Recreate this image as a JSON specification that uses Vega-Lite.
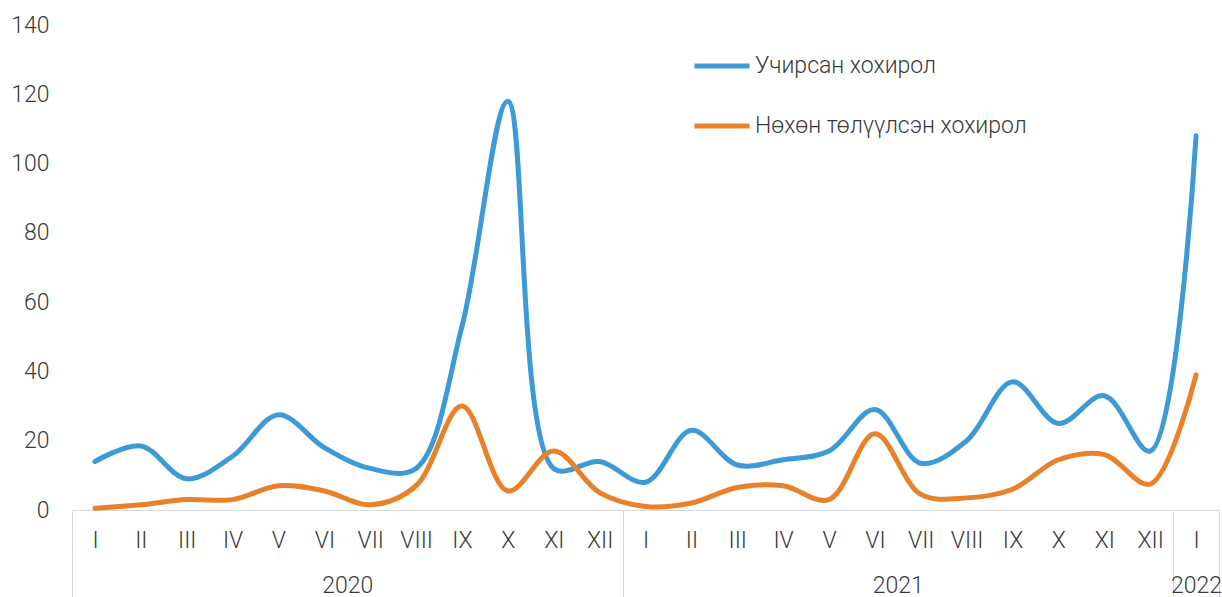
{
  "$schema": "https://vega.github.io/schema/vega-lite/v6.json",
  "width": 1147,
  "height": 485,
  "autosize": {"type": "none"},
  "padding": {"left": 72, "top": 25, "right": 3, "bottom": 87},
  "background": "white",
  "config": {
    "view": {"stroke": null},
    "font": "Roboto",
    "axis": {"labelFont": "Roboto", "labelFontWeight": 300, "labelColor": "#3a3a3a", "labelFontSize": 23}
  },
  "data": {
    "values": [
      {"idx": 0, "month": "I", "year": 2020, "series": "Учирсан хохирол", "value": 14},
      {"idx": 1, "month": "II", "year": 2020, "series": "Учирсан хохирол", "value": 18.5},
      {"idx": 2, "month": "III", "year": 2020, "series": "Учирсан хохирол", "value": 9},
      {"idx": 3, "month": "IV", "year": 2020, "series": "Учирсан хохирол", "value": 15.5},
      {"idx": 4, "month": "V", "year": 2020, "series": "Учирсан хохирол", "value": 27.5},
      {"idx": 5, "month": "VI", "year": 2020, "series": "Учирсан хохирол", "value": 18},
      {"idx": 6, "month": "VII", "year": 2020, "series": "Учирсан хохирол", "value": 12},
      {"idx": 7, "month": "VIII", "year": 2020, "series": "Учирсан хохирол", "value": 12},
      {"idx": 8, "month": "IX", "year": 2020, "series": "Учирсан хохирол", "value": 53},
      {"idx": 9, "month": "X", "year": 2020, "series": "Учирсан хохирол", "value": 118},
      {"idx": 10, "month": "XI", "year": 2020, "series": "Учирсан хохирол", "value": 12},
      {"idx": 11, "month": "XII", "year": 2020, "series": "Учирсан хохирол", "value": 14},
      {"idx": 12, "month": "I", "year": 2021, "series": "Учирсан хохирол", "value": 8},
      {"idx": 13, "month": "II", "year": 2021, "series": "Учирсан хохирол", "value": 23},
      {"idx": 14, "month": "III", "year": 2021, "series": "Учирсан хохирол", "value": 13},
      {"idx": 15, "month": "IV", "year": 2021, "series": "Учирсан хохирол", "value": 14.5},
      {"idx": 16, "month": "V", "year": 2021, "series": "Учирсан хохирол", "value": 17},
      {"idx": 17, "month": "VI", "year": 2021, "series": "Учирсан хохирол", "value": 29},
      {"idx": 18, "month": "VII", "year": 2021, "series": "Учирсан хохирол", "value": 13.5},
      {"idx": 19, "month": "VIII", "year": 2021, "series": "Учирсан хохирол", "value": 20},
      {"idx": 20, "month": "IX", "year": 2021, "series": "Учирсан хохирол", "value": 37},
      {"idx": 21, "month": "X", "year": 2021, "series": "Учирсан хохирол", "value": 25},
      {"idx": 22, "month": "XI", "year": 2021, "series": "Учирсан хохирол", "value": 33},
      {"idx": 23, "month": "XII", "year": 2021, "series": "Учирсан хохирол", "value": 17},
      {"idx": 24, "month": "I", "year": 2022, "series": "Учирсан хохирол", "value": 108},
      {"idx": 0, "month": "I", "year": 2020, "series": "Нөхөн төлүүлсэн хохирол", "value": 0.5},
      {"idx": 1, "month": "II", "year": 2020, "series": "Нөхөн төлүүлсэн хохирол", "value": 1.5},
      {"idx": 2, "month": "III", "year": 2020, "series": "Нөхөн төлүүлсэн хохирол", "value": 3},
      {"idx": 3, "month": "IV", "year": 2020, "series": "Нөхөн төлүүлсэн хохирол", "value": 3},
      {"idx": 4, "month": "V", "year": 2020, "series": "Нөхөн төлүүлсэн хохирол", "value": 7},
      {"idx": 5, "month": "VI", "year": 2020, "series": "Нөхөн төлүүлсэн хохирол", "value": 5.5},
      {"idx": 6, "month": "VII", "year": 2020, "series": "Нөхөн төлүүлсэн хохирол", "value": 1.5},
      {"idx": 7, "month": "VIII", "year": 2020, "series": "Нөхөн төлүүлсэн хохирол", "value": 7},
      {"idx": 8, "month": "IX", "year": 2020, "series": "Нөхөн төлүүлсэн хохирол", "value": 30},
      {"idx": 9, "month": "X", "year": 2020, "series": "Нөхөн төлүүлсэн хохирол", "value": 5.5},
      {"idx": 10, "month": "XI", "year": 2020, "series": "Нөхөн төлүүлсэн хохирол", "value": 17},
      {"idx": 11, "month": "XII", "year": 2020, "series": "Нөхөн төлүүлсэн хохирол", "value": 5},
      {"idx": 12, "month": "I", "year": 2021, "series": "Нөхөн төлүүлсэн хохирол", "value": 1},
      {"idx": 13, "month": "II", "year": 2021, "series": "Нөхөн төлүүлсэн хохирол", "value": 2},
      {"idx": 14, "month": "III", "year": 2021, "series": "Нөхөн төлүүлсэн хохирол", "value": 6.5},
      {"idx": 15, "month": "IV", "year": 2021, "series": "Нөхөн төлүүлсэн хохирол", "value": 7},
      {"idx": 16, "month": "V", "year": 2021, "series": "Нөхөн төлүүлсэн хохирол", "value": 3},
      {"idx": 17, "month": "VI", "year": 2021, "series": "Нөхөн төлүүлсэн хохирол", "value": 22},
      {"idx": 18, "month": "VII", "year": 2021, "series": "Нөхөн төлүүлсэн хохирол", "value": 4.5},
      {"idx": 19, "month": "VIII", "year": 2021, "series": "Нөхөн төлүүлсэн хохирол", "value": 3.5},
      {"idx": 20, "month": "IX", "year": 2021, "series": "Нөхөн төлүүлсэн хохирол", "value": 6},
      {"idx": 21, "month": "X", "year": 2021, "series": "Нөхөн төлүүлсэн хохирол", "value": 14.5},
      {"idx": 22, "month": "XI", "year": 2021, "series": "Нөхөн төлүүлсэн хохирол", "value": 16},
      {"idx": 23, "month": "XII", "year": 2021, "series": "Нөхөн төлүүлсэн хохирол", "value": 7.5},
      {"idx": 24, "month": "I", "year": 2022, "series": "Нөхөн төлүүлсэн хохирол", "value": 39}
    ]
  },
  "mark": {"type": "line", "interpolate": "catmull-rom", "strokeWidth": 5, "strokeCap": "round", "strokeJoin": "round"},
  "encoding": {
    "x": {
      "field": "idx",
      "type": "quantitative",
      "scale": {"domain": [-0.5, 24.5], "nice": false, "zero": false},
      "axis": {
        "title": null,
        "values": [-0.5, 0, 1, 2, 3, 4, 5, 5.5, 6, 7, 8, 9, 10, 11, 11.5, 12, 13, 14, 15, 16, 17, 17.5, 18, 19, 20, 21, 22, 23, 23.5, 24, 24.5],
        "labelExpr": "datum.value == 5.5 ? ['', '2020'] : datum.value == 17.5 ? ['', '2021'] : datum.value == 24 ? ['I', '2022'] : (datum.value % 1 != 0 ? '' : ['I','II','III','IV','V','VI','VII','VIII','IX','X','XI','XII'][datum.value % 12])",
        "labelOverlap": false,
        "labelBound": false,
        "labelFlush": false,
        "labelLineHeight": 45,
        "labelPadding": -68,
        "tickSize": 87,
        "tickColor": "#d9d9d9",
        "tickWidth": 1,
        "tickOpacity": {"condition": {"test": "indexof([-0.5, 11.5, 23.5, 24.5], datum.value) >= 0", "value": 1}, "value": 0},
        "domainColor": "#d9d9d9",
        "domainWidth": 1,
        "grid": false
      }
    },
    "y": {
      "field": "value",
      "type": "quantitative",
      "scale": {"domain": [0, 140], "nice": false},
      "axis": {
        "title": null,
        "values": [0, 20, 40, 60, 80, 100, 120, 140],
        "domain": false,
        "ticks": false,
        "grid": false,
        "labelPadding": 23
      }
    },
    "color": {
      "field": "series",
      "type": "nominal",
      "scale": {"domain": ["Учирсан хохирол", "Нөхөн төлүүлсэн хохирол"], "range": ["#3d9ad6", "#e8812a"]},
      "legend": {
        "title": null,
        "orient": "none",
        "legendX": 620,
        "legendY": 11,
        "padding": 0,
        "symbolType": "stroke",
        "symbolSize": 3025,
        "symbolStrokeWidth": 5,
        "labelFont": "Roboto",
        "labelFontWeight": 300,
        "labelFontSize": 23,
        "labelColor": "#3a3a3a",
        "labelOffset": 3,
        "rowPadding": 18,
        "labelLimit": 500
      }
    }
  }
}
